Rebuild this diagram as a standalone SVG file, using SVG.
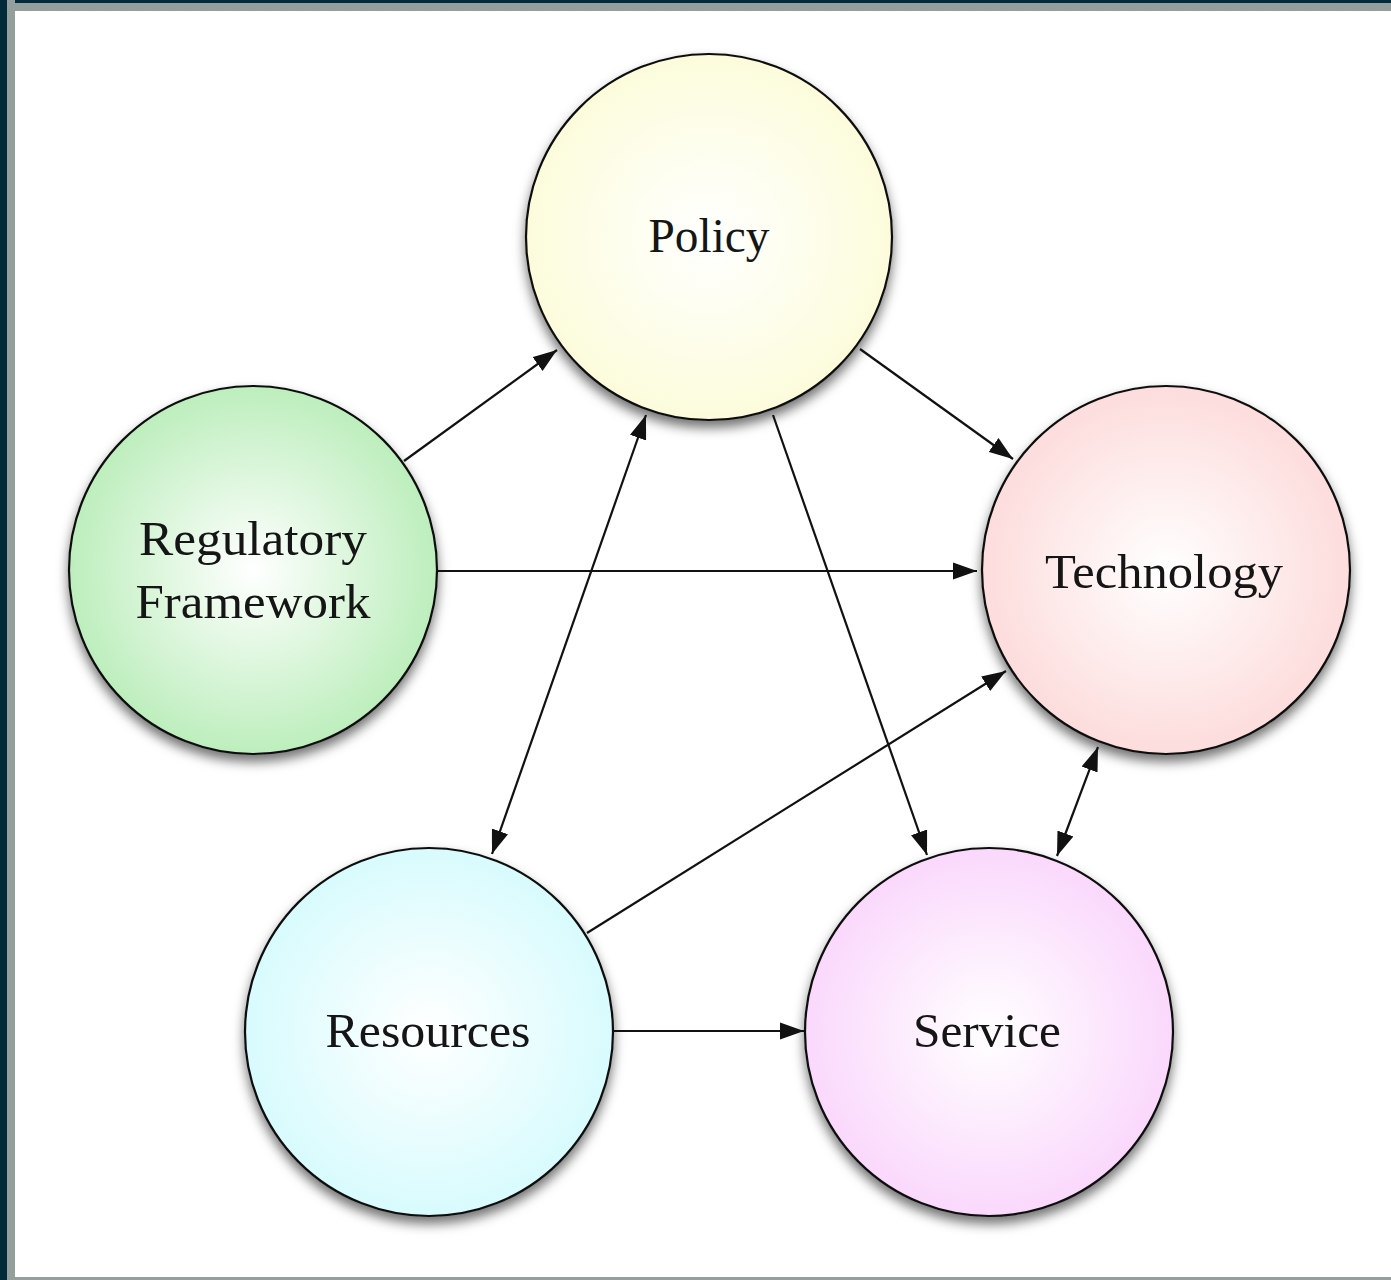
<svg xmlns="http://www.w3.org/2000/svg" width="1391" height="1280" viewBox="0 0 1391 1280">
<style>
.node circle{stroke:#111;stroke-width:2.2}
.node text{font-family:"Liberation Serif","DejaVu Serif",serif;font-size:48px;fill:#151515;text-anchor:middle}
#connectors line{stroke:#111;stroke-width:2.2;fill:none}
</style>
<defs>
<filter id="sh" x="-20%" y="-20%" width="140%" height="150%">
<feDropShadow dx="0" dy="7" stdDeviation="6" flood-color="#000" flood-opacity="0.55"/>
</filter>
<radialGradient id="gY"><stop offset="0" stop-color="#ffffff"/><stop offset="1" stop-color="#fcfcdc"/></radialGradient>
<radialGradient id="gG"><stop offset="0" stop-color="#ffffff"/><stop offset="1" stop-color="#bdeebd"/></radialGradient>
<radialGradient id="gP"><stop offset="0" stop-color="#ffffff"/><stop offset="1" stop-color="#fddcdc"/></radialGradient>
<radialGradient id="gC"><stop offset="0" stop-color="#ffffff"/><stop offset="1" stop-color="#d8fbfd"/></radialGradient>
<radialGradient id="gM"><stop offset="0" stop-color="#ffffff"/><stop offset="1" stop-color="#fad8fc"/></radialGradient>
<marker id="ah" markerUnits="userSpaceOnUse" markerWidth="26" markerHeight="18" refX="24" refY="8.5" orient="auto-start-reverse" viewBox="0 0 26 17">
<path d="M0,0 L24,8.5 L0,17 z" fill="#111"/>
</marker>
</defs>
<rect x="0" y="0" width="1391" height="1280" fill="#ffffff"/>
<rect x="0" y="0" width="1391" height="11" fill="#949e9c"/>
<rect x="0" y="0" width="1391" height="3" fill="#022a38"/>
<rect x="0" y="0" width="15" height="1280" fill="#949e9c"/>
<rect x="0" y="0" width="7" height="1280" fill="#022a38"/>
<rect x="7" y="1277" width="1384" height="3" fill="#949e9c"/>

<g id="node-policy" class="node">
<circle cx="709" cy="237" r="183" fill="url(#gY)" filter="url(#sh)"/>
<text x="709" y="252" textLength="121" lengthAdjust="spacingAndGlyphs">Policy</text>
</g>
<g id="node-regulatory" class="node">
<circle cx="253" cy="570" r="184" fill="url(#gG)" filter="url(#sh)"/>
<text x="253" y="555" textLength="228" lengthAdjust="spacingAndGlyphs">Regulatory</text>
<text x="253" y="618" textLength="235" lengthAdjust="spacingAndGlyphs">Framework</text>
</g>
<g id="node-technology" class="node">
<circle cx="1166" cy="570" r="184" fill="url(#gP)" filter="url(#sh)"/>
<text x="1164" y="588" textLength="238" lengthAdjust="spacingAndGlyphs">Technology</text>
</g>
<g id="node-resources" class="node">
<circle cx="429" cy="1032" r="184" fill="url(#gC)" filter="url(#sh)"/>
<text x="428" y="1047" textLength="205" lengthAdjust="spacingAndGlyphs">Resources</text>
</g>
<g id="node-service" class="node">
<circle cx="989" cy="1032" r="184" fill="url(#gM)" filter="url(#sh)"/>
<text x="987" y="1047" textLength="148" lengthAdjust="spacingAndGlyphs">Service</text>
</g>

<g id="connectors">
<line x1="404" y1="461" x2="557" y2="350" marker-end="url(#ah)"/>
<line x1="860" y1="349" x2="1013" y2="459" marker-end="url(#ah)"/>
<line x1="438" y1="571" x2="977" y2="571" marker-end="url(#ah)"/>
<line x1="646" y1="415" x2="492" y2="854" marker-start="url(#ah)" marker-end="url(#ah)"/>
<line x1="773" y1="415" x2="927" y2="855" marker-end="url(#ah)"/>
<line x1="587" y1="933" x2="1006" y2="671" marker-end="url(#ah)"/>
<line x1="1098" y1="747" x2="1057" y2="856" marker-start="url(#ah)" marker-end="url(#ah)"/>
<line x1="613" y1="1031" x2="804" y2="1031" marker-end="url(#ah)"/>
</g>
</svg>
